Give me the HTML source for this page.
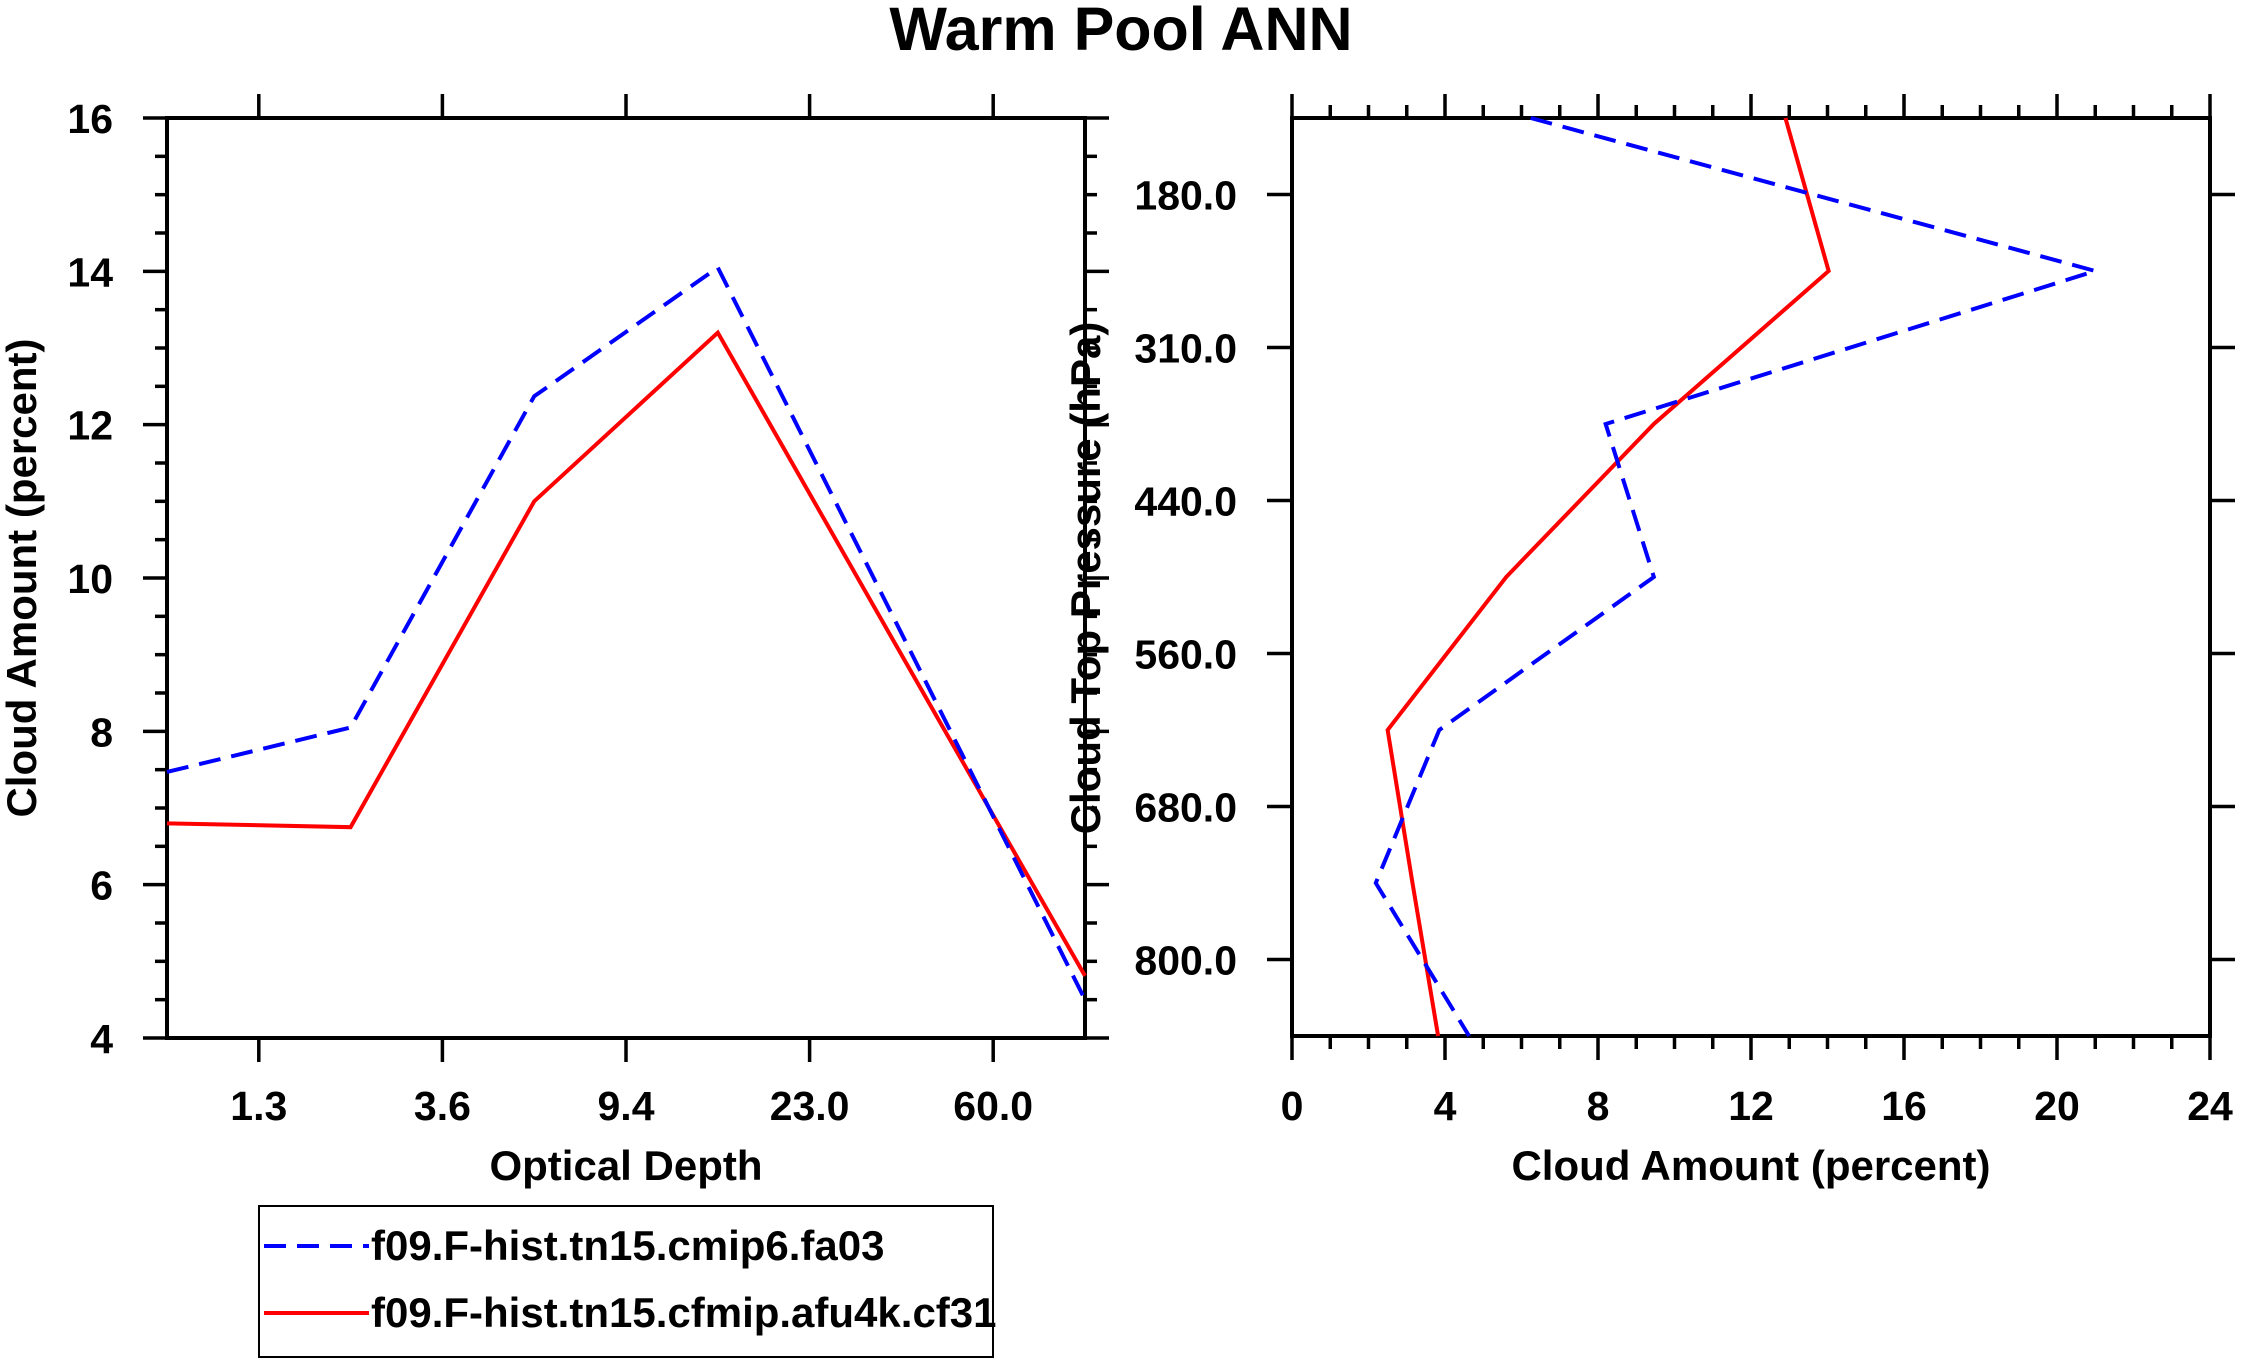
<!DOCTYPE html>
<html><head><meta charset="utf-8"><style>
html,body{margin:0;padding:0;background:#fff;}
svg{display:block;font-family:"Liberation Sans",Arial,sans-serif;font-weight:bold;}
</style></head><body>
<svg id="chart" width="2241" height="1366" viewBox="0 0 2241 1366" xmlns="http://www.w3.org/2000/svg">
<text x="1121" y="50" font-size="61" text-anchor="middle">Warm Pool ANN</text>
<g id="left"></g>
<g id="right"></g>
<text transform="translate(36,578) rotate(-90)" font-size="42" text-anchor="middle">Cloud Amount (percent)</text>
<text x="626" y="1180" font-size="42" text-anchor="middle">Optical Depth</text>
<text transform="translate(1100,578) rotate(-90)" font-size="42" text-anchor="middle">Cloud Top Pressure (hPa)</text>
<text x="1751" y="1180" font-size="42" text-anchor="middle">Cloud Amount (percent)</text>
<g>
<rect x="259" y="1206" width="734" height="151" fill="none" stroke="#000" stroke-width="2"/>
<line x1="264" y1="1246" x2="369" y2="1246" stroke="#0000ff" stroke-width="4" stroke-dasharray="22,11"/>
<text x="371" y="1260" font-size="42">f09.F-hist.tn15.cmip6.fa03</text>
<line x1="264" y1="1313" x2="369" y2="1313" stroke="#ff0000" stroke-width="4"/>
<text x="371" y="1327" font-size="42">f09.F-hist.tn15.cfmip.afu4k.cf31</text>
</g>
</svg>
<script>
// Left panel data (index positions 0..5)
const tauTickLabels = ["1.3","3.6","9.4","23.0","60.0"];
const leftYTicks = [4,6,8,10,12,14,16];
const tauBlue = [7.47, 8.05, 12.37, 14.05, 9.28, 4.5];
const tauRed = [6.8, 6.75, 11.0, 13.2, 9.0, 4.81];
// Right panel data (level index 0..6)
const presTickLabels = ["180.0","310.0","440.0","560.0","680.0","800.0"];
const rightXTicks = [0,4,8,12,16,20,24];
const presBlue = [6.24, 21.0, 8.2, 9.46, 3.85, 2.19, 4.63];
const presRed = [12.9, 14.03, 9.46, 5.6, 2.5, 3.15, 3.82];
</script>
<script>
const NS="http://www.w3.org/2000/svg";
function mk(parent,tag,attrs){const e=document.createElementNS(NS,tag);for(const k in attrs)e.setAttribute(k,attrs[k]);parent.appendChild(e);return e;}

// LEFT
const L={x0:167,x1:1085,y0:118,y1:1038};
const lx=i=>L.x0+(i/5)*(L.x1-L.x0);
const ly=v=>L.y1-(v-4)/12*(L.y1-L.y0);
const lg=document.getElementById('left');
let fr=mk(lg,'rect',{x:L.x0,y:L.y0,width:L.x1-L.x0,height:L.y1-L.y0,fill:'none',stroke:'#000','stroke-width':4});

for(let v=4;v<=16.001;v+=0.5){
  const maj=Math.abs(v-Math.round(v/2)*2)<1e-6;const len=maj?24:12;const y=ly(v);
  let t=mk(lg,'line',{x1:L.x0-len,y1:y,x2:L.x0,y2:y,stroke:'#000','stroke-width':3.5});
  
  t=mk(lg,'line',{x1:L.x1,y1:y,x2:L.x1+len,y2:y,stroke:'#000','stroke-width':3.5});
  
}
leftYTicks.forEach(v=>{const t=mk(lg,'text',{x:113,y:ly(v)+15,'font-size':41,'text-anchor':'end'});t.textContent=v;
  });
tauTickLabels.forEach((s,i)=>{const x=lx(i+0.5);
  let t=mk(lg,'line',{x1:x,y1:L.y1,x2:x,y2:L.y1+24,stroke:'#000','stroke-width':3.5});
  
  t=mk(lg,'line',{x1:x,y1:L.y0-24,x2:x,y2:L.y0,stroke:'#000','stroke-width':3.5});
  
  t=mk(lg,'text',{x:x,y:1120,'font-size':41,'text-anchor':'middle'});t.textContent=s;
  });
let p=mk(lg,'polyline',{points:tauRed.map((v,i)=>lx(i)+','+ly(v)).join(' '),fill:'none',stroke:'#ff0000','stroke-width':4});

p=mk(lg,'polyline',{points:tauBlue.map((v,i)=>lx(i)+','+ly(v)).join(' '),fill:'none',stroke:'#0000ff','stroke-width':4,'stroke-dasharray':'22,11'});


// RIGHT
const R={x0:1292,x1:2210,y0:118,y1:1036};
const rx=v=>R.x0+v/24*(R.x1-R.x0);
const ry=i=>R.y0+(i/6)*(R.y1-R.y0);
const rg=document.getElementById('right');
fr=mk(rg,'rect',{x:R.x0,y:R.y0,width:R.x1-R.x0,height:R.y1-R.y0,fill:'none',stroke:'#000','stroke-width':4});

for(let v=0;v<=24;v++){const maj=v%4===0;const len=maj?24:13;const x=rx(v);
  let t=mk(rg,'line',{x1:x,y1:R.y1,x2:x,y2:R.y1+len,stroke:'#000','stroke-width':3.5});
  
  t=mk(rg,'line',{x1:x,y1:R.y0-len,x2:x,y2:R.y0,stroke:'#000','stroke-width':3.5});
  }
rightXTicks.forEach(v=>{const t=mk(rg,'text',{x:rx(v),y:1120,'font-size':41,'text-anchor':'middle'});t.textContent=v;
  });
presTickLabels.forEach((s,i)=>{const y=ry(i+0.5);
  let t=mk(rg,'line',{x1:R.x0-25,y1:y,x2:R.x0,y2:y,stroke:'#000','stroke-width':3.5});
  
  t=mk(rg,'line',{x1:R.x1,y1:y,x2:R.x1+25,y2:y,stroke:'#000','stroke-width':3.5});
  
  t=mk(rg,'text',{x:1237,y:y+15,'font-size':41,'text-anchor':'end'});t.textContent=s;
  });
p=mk(rg,'polyline',{points:presRed.map((v,i)=>rx(v)+','+ry(i)).join(' '),fill:'none',stroke:'#ff0000','stroke-width':4});

p=mk(rg,'polyline',{points:presBlue.map((v,i)=>rx(v)+','+ry(i)).join(' '),fill:'none',stroke:'#0000ff','stroke-width':4,'stroke-dasharray':'22,11'});

</script>
</body></html>
